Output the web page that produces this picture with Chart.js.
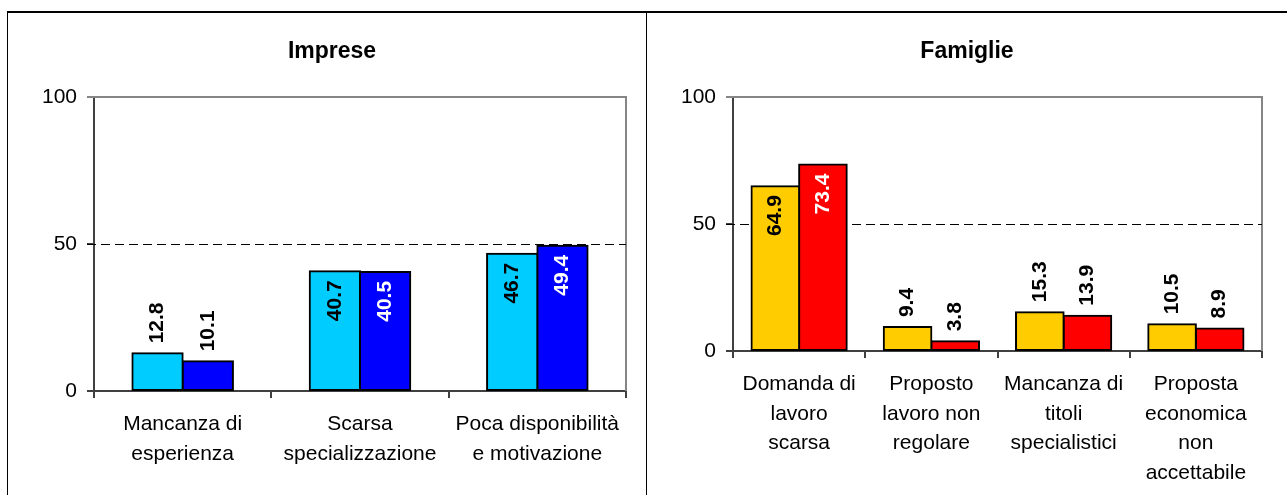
<!DOCTYPE html>
<html>
<head>
<meta charset="utf-8">
<script src="https://cdn.jsdelivr.net/npm/chart.js@4/dist/chart.umd.min.js"></script>
<style>
  html, body { margin: 0; padding: 0; background: #ffffff; }
  body { width: 1287px; height: 495px; position: relative; overflow: hidden; }
  canvas { position: absolute; }
  .line { position: absolute; background: #000; }
</style>
</head>
<body>
<canvas id="left" width="638" height="483" style="left:8px;top:12px"></canvas>
<canvas id="right" width="640" height="483" style="left:647px;top:12px"></canvas>
<div class="line" style="left:7px;top:11px;width:1280px;height:2px"></div>
<div class="line" style="left:7px;top:11px;width:1px;height:484px"></div>
<div class="line" style="left:646px;top:11px;width:1px;height:484px"></div>
<script>
// ---- Data ----
const impreseTitle = 'Imprese';
const impreseCategories = [
  ['Mancanza di', 'esperienza'],
  ['Scarsa', 'specializzazione'],
  ['Poca disponibilità', 'e motivazione']
];
const impreseSeriesA = [12.8, 40.7, 46.7];
const impreseSeriesB = [10.1, 40.5, 49.4];

const famiglieTitle = 'Famiglie';
const famiglieCategories = [
  ['Domanda di', 'lavoro', 'scarsa'],
  ['Proposto', 'lavoro non', 'regolare'],
  ['Mancanza di', 'titoli', 'specialistici'],
  ['Proposta', 'economica', 'non', 'accettabile']
];
const famiglieSeriesA = [64.9, 9.4, 15.3, 10.5];
const famiglieSeriesB = [73.4, 3.8, 13.9, 8.9];

const yTicks = [0, 50, 100];
const referenceValue = 50;

// ---- Styling ----
const FONT = "'Liberation Sans', Arial, Helvetica, sans-serif";
const AXIS_COLOR = '#404040';

const panelTitlePlugin = {
  id: 'panelTitle',
  afterDraw(chart, args, opts) {
    const { ctx } = chart;
    ctx.save();
    ctx.font = 'bold 23px ' + FONT;
    ctx.fillStyle = '#000';
    ctx.textAlign = 'center';
    ctx.textBaseline = 'middle';
    ctx.fillText(opts.text, opts.x, 40);
    ctx.restore();
  }
};

const refLinePlugin = {
  id: 'refLine',
  beforeDatasetsDraw(chart) {
    const { ctx, chartArea: a, scales } = chart;
    ctx.save();
    ctx.strokeStyle = '#868686';
    ctx.lineWidth = 2;
    ctx.beginPath();
    ctx.moveTo(a.left - 7, a.top);
    ctx.lineTo(a.right, a.top);
    ctx.lineTo(a.right, a.bottom);
    ctx.stroke();
    const y = Math.round(scales.y.getPixelForValue(referenceValue)) + 0.5;
    ctx.strokeStyle = '#000';
    ctx.lineWidth = 1;
    ctx.setLineDash([9, 5]);
    ctx.beginPath();
    ctx.moveTo(a.left - 7, y);
    ctx.lineTo(a.right, y);
    ctx.stroke();
    ctx.restore();
  }
};

const valueLabelPlugin = {
  id: 'valueLabels',
  afterDatasetsDraw(chart) {
    const { ctx } = chart;
    ctx.save();
    ctx.font = 'bold 21px ' + FONT;
    ctx.textBaseline = 'middle';
    chart.data.datasets.forEach((ds, di) => {
      const meta = chart.getDatasetMeta(di);
      meta.data.forEach((bar, i) => {
        const v = ds.data[i];
        const txt = v.toFixed(1);
        const { x, y, base } = bar.getProps(['x', 'y', 'base'], true);
        const w = ctx.measureText(txt).width;
        const h = base - y;
        ctx.save();
        if (h > w + 20) {
          ctx.translate(x, y + 9);
          ctx.rotate(-Math.PI / 2);
          ctx.textAlign = 'right';
          ctx.fillStyle = ds.insideLabelColor;
        } else {
          ctx.translate(x, y - 10);
          ctx.rotate(-Math.PI / 2);
          ctx.textAlign = 'left';
          ctx.fillStyle = '#000';
        }
        ctx.fillText(txt, 0, 0);
        ctx.restore();
      });
    });
    ctx.restore();
  }
};

function makeChart(id, title, titleX, categories, a, b, colors, catPct, rightPad, xHeight) {
  const dsCommon = {
    borderColor: '#000',
    borderWidth: 2,
    borderSkipped: false,
    inflateAmount: 1,
    barPercentage: 1,
    categoryPercentage: catPct,
    clip: false
  };
  return new Chart(document.getElementById(id), {
    type: 'bar',
    data: {
      labels: categories,
      datasets: [
        Object.assign({ label: 'Serie 1', data: a, backgroundColor: colors[0], insideLabelColor: '#000' }, dsCommon),
        Object.assign({ label: 'Serie 2', data: b, backgroundColor: colors[1], insideLabelColor: '#fff' }, dsCommon)
      ]
    },
    options: {
      responsive: false,
      animation: false,
      devicePixelRatio: 1,
      layout: { padding: { left: 0, right: rightPad, top: 85, bottom: 0 } },
      plugins: {
        legend: { display: false },
        tooltip: { enabled: false },
        title: { display: false },
        panelTitle: { text: title, x: titleX }
      },
      scales: {
        x: {
          offset: true,
          grid: {
            offset: true,
            drawOnChartArea: false,
            drawTicks: true,
            tickLength: 7,
            color: AXIS_COLOR,
            lineWidth: 2
          },
          border: { display: true, color: AXIS_COLOR, width: 2 },
          ticks: {
            color: '#000',
            font: { family: FONT, size: 21, lineHeight: 1.4 },
            padding: 12,
            maxRotation: 0,
            minRotation: 0,
            autoSkip: false
          },
          afterFit(scale) { scale.height = xHeight; }
        },
        y: {
          min: yTicks[0],
          max: yTicks[yTicks.length - 1],
          afterBuildTicks(scale) { scale.ticks = yTicks.map(v => ({ value: v })); },
          grid: {
            drawOnChartArea: false,
            drawTicks: true,
            tickLength: 7,
            color: AXIS_COLOR,
            lineWidth: 2
          },
          border: { display: true, color: AXIS_COLOR, width: 2 },
          ticks: {
            color: '#000',
            font: { family: FONT, size: 21 },
            padding: 10
          },
          afterFit(scale) { scale.width = 86; }
        }
      }
    },
    plugins: [refLinePlugin, valueLabelPlugin, panelTitlePlugin]
  });
}

makeChart('left', impreseTitle, 324, impreseCategories, impreseSeriesA, impreseSeriesB,
  ['#00CCFF', '#0000FF'], 0.567, 20, 104);
makeChart('right', famiglieTitle, 320, famiglieCategories, famiglieSeriesA, famiglieSeriesB,
  ['#FFCC00', '#FF0000'], 0.72, 25, 144);
</script>
</body>
</html>
